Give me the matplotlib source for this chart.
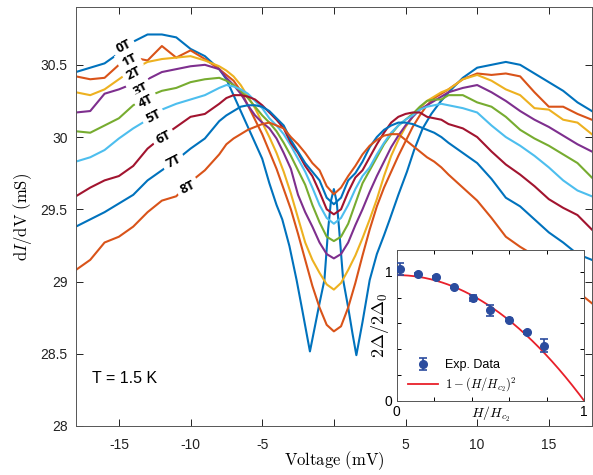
import numpy as np
import matplotlib
matplotlib.use("Agg")
import matplotlib.pyplot as plt

plt.rcParams["font.family"] = ["Liberation Sans", "DejaVu Sans"]
plt.rcParams["mathtext.fontset"] = "cm"

# ── Voltage grid shared by the 1T..8T sweeps (mV) ────────────────────────────
V = [-18, -17, -16, -15, -14, -13, -12, -11, -10, -9,
     -8, -7.5, -7, -6.5, -6, -5.5, -5, -4.5, -4, -3.5, -3, -2.5, -2, -1.5, -1, -0.5,
     0, 0.5, 1, 1.5, 2, 2.5, 3, 3.5, 4, 4.5, 5, 5.5, 6, 6.5, 7, 7.5, 8,
     9, 10, 11, 12, 13, 14, 15, 16, 17, 18]

# 0T has its own grid so the two coherence dips are kept
V_0T = [-18, -17, -16, -15, -14, -13, -12, -11, -10, -9,
        -8, -7.5, -7, -6.5, -6, -5.5, -5, -4.5, -4, -3.6, -3.1, -2.6, -2.2, -1.67,
        -1.3, -1.0, -0.66, -0.4, -0.2, 0, 0.2, 0.37, 0.65, 1.0, 1.3, 1.57, 2.0, 2.5,
        3.0, 3.5, 3.9, 4.5, 5.1, 5.6, 6.2, 6.8, 7.4, 8.1,
        9, 10, 11, 12, 13, 14, 15, 16, 17, 18]
G_0T = [30.45, 30.48, 30.51, 30.58, 30.66, 30.71, 30.71, 30.69, 30.61, 30.56,
        30.47, 30.40, 30.29, 30.18, 30.07, 29.96, 29.85, 29.68, 29.53, 29.43, 29.245, 29.01, 28.80, 28.516,
        28.70, 28.85, 29.01, 29.36, 29.56, 29.64, 29.55, 29.36, 29.01, 28.82, 28.64, 28.49, 28.72, 29.01,
        29.19, 29.32, 29.43, 29.60, 29.76, 29.91, 30.06, 30.16, 30.24, 30.32,
        30.41, 30.48, 30.50, 30.52, 30.50, 30.44, 30.38, 30.32, 30.24, 30.18]

G_1T = [30.42, 30.40, 30.41, 30.50, 30.55, 30.53, 30.63, 30.55, 30.60, 30.54,
        30.47, 30.43, 30.39, 30.32, 30.22, 30.12, 30.02, 29.90, 29.78, 29.64, 29.50, 29.33, 29.15, 28.97, 28.82, 28.70,
        28.655, 28.69, 28.82, 28.99, 29.18, 29.36, 29.52, 29.65, 29.76, 29.87, 29.97, 30.07, 30.15, 30.22, 30.27, 30.30, 30.33,
        30.40, 30.44, 30.43, 30.44, 30.42, 30.31, 30.21, 30.21, 30.16, 30.12]
G_2T = [30.31, 30.29, 30.33, 30.40, 30.47, 30.52, 30.54, 30.55, 30.56, 30.53,
        30.49, 30.46, 30.42, 30.36, 30.28, 30.20, 30.10, 30.00, 29.89, 29.76, 29.61, 29.44, 29.27, 29.15, 29.06, 28.98,
        28.944, 28.99, 29.08, 29.18, 29.30, 29.43, 29.57, 29.73, 29.87, 29.98, 30.07, 30.14, 30.20, 30.25, 30.28, 30.31, 30.33,
        30.40, 30.43, 30.39, 30.33, 30.29, 30.20, 30.19, 30.12, 30.10, 30.02]
G_3T = [30.17, 30.18, 30.30, 30.33, 30.37, 30.40, 30.45, 30.47, 30.49, 30.50,
        30.47, 30.41, 30.36, 30.30, 30.22, 30.15, 30.10, 30.06, 29.99, 29.89, 29.78, 29.60, 29.48, 29.38, 29.27, 29.19,
        29.16, 29.19, 29.27, 29.39, 29.50, 29.62, 29.73, 29.83, 29.93, 30.01, 30.08, 30.14, 30.19, 30.22, 30.25, 30.28, 30.31,
        30.34, 30.36, 30.31, 30.25, 30.18, 30.12, 30.07, 30.01, 29.95, 29.90]
G_4T = [30.04, 30.03, 30.08, 30.13, 30.22, 30.28, 30.32, 30.34, 30.38, 30.40,
        30.41, 30.39, 30.36, 30.32, 30.27, 30.21, 30.15, 30.10, 30.04, 29.96, 29.87, 29.77, 29.67, 29.53, 29.41, 29.31,
        29.28, 29.31, 29.40, 29.54, 29.68, 29.77, 29.86, 29.95, 30.02, 30.08, 30.12, 30.16, 30.21, 30.25, 30.26, 30.26, 30.29,
        30.29, 30.24, 30.21, 30.14, 30.05, 29.99, 29.94, 29.88, 29.82, 29.72]
G_5T = [29.83, 29.86, 29.91, 29.99, 30.06, 30.12, 30.19, 30.23, 30.26, 30.29,
        30.34, 30.36, 30.35, 30.33, 30.30, 30.25, 30.20, 30.13, 30.08, 30.02, 29.94, 29.85, 29.76, 29.65, 29.53, 29.44,
        29.40, 29.44, 29.53, 29.64, 29.73, 29.79, 29.88, 29.96, 30.03, 30.08, 30.12, 30.15, 30.19, 30.21, 30.22, 30.23, 30.22,
        30.20, 30.17, 30.08, 30.00, 29.94, 29.87, 29.79, 29.70, 29.63, 29.59]
G_6T = [29.59, 29.65, 29.70, 29.73, 29.80, 29.92, 30.00, 30.07, 30.14, 30.16,
        30.23, 30.27, 30.29, 30.29, 30.28, 30.26, 30.22, 30.17, 30.12, 30.06, 29.96, 29.89, 29.80, 29.73, 29.62, 29.50,
        29.465, 29.50, 29.62, 29.72, 29.77, 29.86, 29.95, 30.03, 30.10, 30.14, 30.16, 30.17, 30.17, 30.14, 30.13, 30.12, 30.09,
        30.06, 30.00, 29.90, 29.81, 29.74, 29.66, 29.57, 29.51, 29.46, 29.36]
G_7T = [29.38, 29.43, 29.48, 29.54, 29.60, 29.70, 29.77, 29.84, 29.92, 29.99,
        30.11, 30.15, 30.18, 30.21, 30.22, 30.22, 30.21, 30.18, 30.13, 30.08, 29.98, 29.90, 29.82, 29.76, 29.70, 29.58,
        29.535, 29.58, 29.70, 29.75, 29.83, 29.93, 30.00, 30.05, 30.08, 30.10, 30.10, 30.09, 30.07, 30.05, 30.03, 30.00, 29.96,
        29.89, 29.82, 29.71, 29.58, 29.52, 29.43, 29.34, 29.27, 29.19, 29.15]
G_8T = [29.08, 29.15, 29.27, 29.31, 29.38, 29.48, 29.56, 29.59, 29.69, 29.77,
        29.88, 29.95, 29.99, 30.02, 30.05, 30.07, 30.09, 30.10, 30.08, 30.06, 30.00, 29.95, 29.89, 29.82, 29.77, 29.66,
        29.604, 29.65, 29.73, 29.80, 29.88, 29.94, 29.98, 30.01, 30.02, 30.02, 29.98, 29.94, 29.90, 29.86, 29.83, 29.79, 29.74,
        29.65, 29.56, 29.44, 29.31, 29.24, 29.18, 29.09, 29.01, 28.93, 28.85]

field_labels = ["0T", "1T", "2T", "3T", "4T", "5T", "6T", "7T", "8T"]
label_V = [-14.65, -14.3, -13.95, -13.5, -13.1, -12.6, -11.9, -11.2, -10.2]
label_G = [30.625, 30.53, 30.44, 30.33, 30.25, 30.14, 30.0, 29.83, 29.65]

# ── Inset: gap vs field ───────────────────────────────────────────────────────
h_ratio = [0.018, 0.116, 0.212, 0.308, 0.406, 0.50, 0.598, 0.694, 0.788]
gap_ratio = [1.023, 0.984, 0.958, 0.883, 0.797, 0.701, 0.629, 0.530, 0.426]
gap_err = [0.045, 0.010, 0.012, 0.008, 0.025, 0.040, 0.010, 0.010, 0.050]
fit_amp = 0.975

colors = ["#0072BD", "#D95319", "#EDB120", "#7E2F8E", "#77AC30",
          "#4DBEEE", "#A2142F", "#0072BD", "#D95319"]

fig = plt.figure(figsize=(5.93, 4.75), dpi=100)
ax = fig.add_axes([0.128, 0.1032, 0.870, 0.882])

curves = [G_0T, G_1T, G_2T, G_3T, G_4T, G_5T, G_6T, G_7T, G_8T]
for i, g in enumerate(curves):
    xs = V_0T if i == 0 else V
    ax.plot(xs, g, color=colors[i], lw=1.5, zorder=2)

for lab, lv, lg in zip(field_labels, label_V, label_G):
    ax.text(lv, lg, lab, rotation=27, ha="center", va="center", fontsize=9.5,
            fontweight="bold", family=["Open Sans", "DejaVu Sans"], zorder=4,
            bbox=dict(boxstyle="square,pad=0.3", fc="white", ec="none"))

ax.set_xlim(-18, 18)
ax.set_ylim(28, 30.9)
ax.set_xticks([-15, -10, -5, 0, 5, 10, 15])
# the "0" label sits under the axis title in the original and is not shown
ax.set_xticklabels(["-15", "-10", "-5", "", "5", "10", "15"])
ax.set_yticks([28, 28.5, 29, 29.5, 30, 30.5])
ax.set_yticklabels(["28", "28.5", "29", "29.5", "30", "30.5"])
ax.tick_params(direction="in", top=True, right=True, length=5, width=0.7,
               labelsize=10, colors="#222222")
ax.tick_params(axis="x", pad=9)
ax.tick_params(axis="y", pad=6)
for sp in ax.spines.values():
    sp.set_linewidth(0.7)
    sp.set_color("#555555")

ax.set_xlabel(r"$\mathrm{Voltage\ (mV)}$", fontsize=12)
ax.xaxis.set_label_coords(0.5, -0.055)
ax.set_ylabel(r"$\mathrm{d}I/\mathrm{dV\ (mS)}$", fontsize=12)
ax.yaxis.set_label_coords(-0.082, 0.5)

ax.text(-16.9, 28.33, "T = 1.5 K", fontsize=11.5, ha="left", va="center")

# ── Inset ─────────────────────────────────────────────────────────────────────
ins = fig.add_axes([0.669, 0.1564, 0.316, 0.3173])
ins.set_facecolor("white")
ins.set_zorder(5)
hh = np.linspace(0, 1, 200)
ins.plot(hh, fit_amp * (1 - hh ** 2), color="#E8202A", lw=1.3,
         label=r"$1-(H/H_{c_2})^2$")
ins.errorbar(h_ratio, gap_ratio, yerr=gap_err, fmt="o", color="#2B4C9E",
             ms=5.5, capsize=3, elinewidth=1.2, capthick=1.2, label="Exp. Data",
             zorder=3)
ins.set_xlim(0, 1)
ins.set_ylim(0, 1.17)
ins.set_xticks([0, 0.2, 0.4, 0.6, 0.8, 1])
ins.set_xticklabels(["0", "", "", "", "", "1"])
ins.set_yticks([0, 0.2, 0.4, 0.6, 0.8, 1])
ins.set_yticklabels(["0", "", "", "", "", "1"])
ins.tick_params(direction="in", top=True, right=True, length=3, width=0.7,
                labelsize=10, pad=3)
for sp in ins.spines.values():
    sp.set_linewidth(0.7)
    sp.set_color("#555555")
ins.set_xlabel(r"$H/H_{c_2}$", fontsize=10)
ins.xaxis.set_label_coords(0.5, -0.03)
ins.set_ylabel(r"$2\Delta/2\Delta_0$", fontsize=13)
ins.yaxis.set_label_coords(-0.03, 0.5)

handles, labels = ins.get_legend_handles_labels()
ins.legend(handles[::-1], labels[::-1], loc="lower left",
           bbox_to_anchor=(0.0, -0.03), frameon=False, fontsize=9,
           handlelength=2.4, handletextpad=0.6, labelspacing=0.35)

fig.savefig("out.png", dpi=100)
